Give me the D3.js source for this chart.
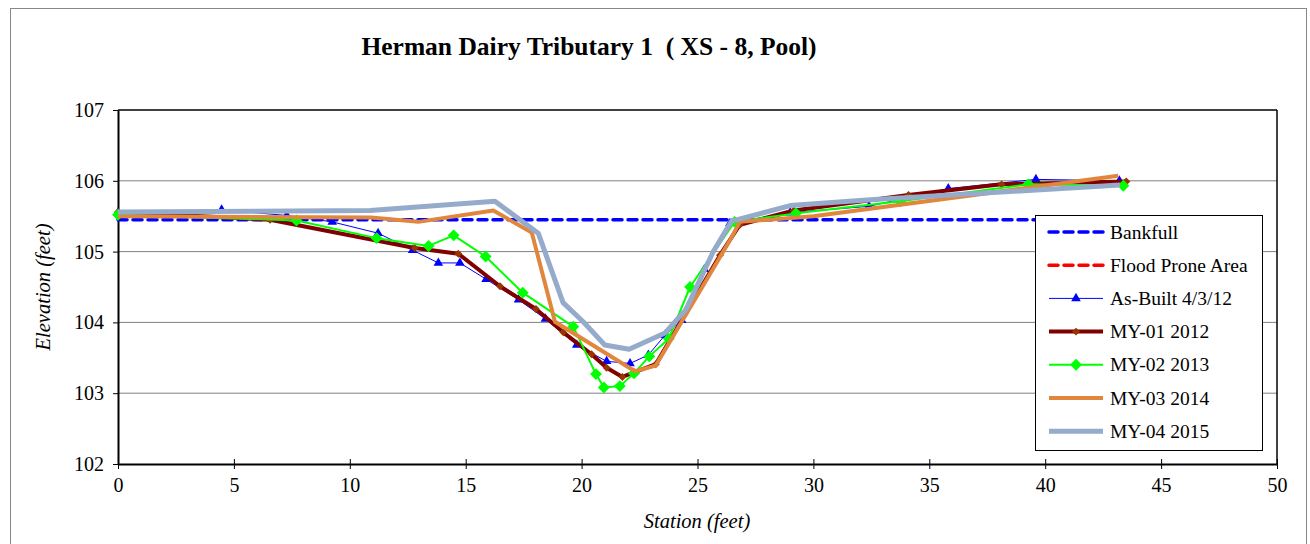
<!DOCTYPE html>
<html>
<head>
<meta charset="utf-8">
<script src="https://cdn.jsdelivr.net/npm/d3@7"></script>
<style>
  body { margin: 0; background: #fff; }
  svg { display: block; font-family: "Liberation Serif", "Times New Roman", serif; }
  .tick text { font-family: "Liberation Serif", "Times New Roman", serif; }
</style>
</head>
<body>
<svg id="chart"></svg>
<script>
const width = 1310;
const height = 544;

// station ticks and elevation ticks
const xTicks = [0, 5, 10, 15, 20, 25, 30, 35, 40, 45, 50];
const yTicks = [102, 103, 104, 105, 106, 107];

// survey data, [station, elevation]
const bankfull = [[0, 105.45], [43.2, 105.45]];
const floodProne = [];
const asBuilt = [
  [0, 105.55], [4.47, 105.59], [7.28, 105.51], [9.24, 105.42], [11.22, 105.26],
  [12.71, 105.02], [13.82, 104.84], [14.75, 104.84], [15.88, 104.61], [17.28, 104.32],
  [18.44, 104.05], [19.79, 103.68], [21.08, 103.45], [22.09, 103.42], [22.88, 103.54],
  [23.6, 103.82], [24.32, 104.03], [25.3, 104.75], [26.4, 105.4], [29.0, 105.55],
  [32.4, 105.64], [35.82, 105.89], [39.6, 106.02], [43.2, 106.0]
];
const my01 = [
  [0, 105.56], [6.56, 105.45], [12.8, 105.05], [14.68, 104.97], [16.48, 104.51],
  [18.03, 104.19], [19.21, 103.86], [20.43, 103.55], [21.08, 103.36], [21.76, 103.23],
  [23.2, 103.41], [25.97, 104.95], [26.83, 105.38], [29.16, 105.58], [34.1, 105.8],
  [38.12, 105.95], [43.5, 105.99]
];
const my02 = [
  [0, 105.52], [7.7, 105.44], [11.16, 105.19], [13.4, 105.08], [14.48, 105.23],
  [15.86, 104.93], [17.46, 104.42], [19.64, 103.94], [20.62, 103.27], [20.96, 103.08],
  [21.65, 103.1], [22.26, 103.28], [22.92, 103.52], [23.76, 103.77], [24.68, 104.5],
  [26.6, 105.42], [29.25, 105.54], [33.74, 105.71], [39.27, 105.95], [43.37, 105.93]
];
const my03 = [
  [0, 105.5], [10.9, 105.48], [12.96, 105.42], [16.19, 105.58], [17.85, 105.27],
  [18.85, 104.01], [22.3, 103.31], [23.2, 103.39], [26.4, 105.16], [26.83, 105.42],
  [30.0, 105.5], [43.15, 106.07]
];
const my04 = [
  [0, 105.56], [10.87, 105.58], [16.26, 105.71], [18.13, 105.26], [19.2, 104.28],
  [20.07, 104.01], [21.0, 103.68], [22.05, 103.62], [23.6, 103.85], [24.5, 104.18],
  [25.68, 105.0], [26.47, 105.43], [29.0, 105.65], [32.3, 105.73], [43.23, 105.94]
];

const series = [
  { name: "Bankfull", data: bankfull, color: "#0000ff", width: 3.5, dash: "9,6", marker: null },
  { name: "Flood Prone Area", data: floodProne, color: "#ff0000", width: 3.5, dash: "9,6", marker: null },
  { name: "As-Built 4/3/12", data: asBuilt, color: "#0000ff", width: 1, dash: null, marker: "triangle", markerColor: "#0000ff", markerSize: 40 },
  { name: "MY-01 2012", data: my01, color: "#800000", width: 4, dash: null, marker: "diamond", markerColor: "#993300", markerSize: 40 },
  { name: "MY-02 2013", data: my02, color: "#00ff00", width: 2, dash: null, marker: "diamond", markerColor: "#00ff00", markerSize: 90 },
  { name: "MY-03 2014", data: my03, color: "#e0863d", width: 4, dash: null, marker: null },
  { name: "MY-04 2015", data: my04, color: "#95abcc", width: 5, dash: null, marker: null }
];

const serif = "Liberation Serif, Times New Roman, serif";
const margin = { left: 118, right: 33, top: 110, bottom: 80 };

const x = d3.scaleLinear().domain([0, 50]).range([margin.left, width - margin.right]);
const y = d3.scaleLinear().domain([102, 107]).range([height - margin.bottom, margin.top]);

const svg = d3.select("#chart").attr("width", width).attr("height", height);

// outer chart frame
svg.append("rect")
  .attr("x", 10.5).attr("y", 8.5)
  .attr("width", 1296).attr("height", 600)
  .attr("fill", "none").attr("stroke", "#888").attr("stroke-width", 1);

// title
svg.append("text")
  .attr("x", 589).attr("y", 55)
  .attr("text-anchor", "middle")
  .attr("font-size", "25.5px").attr("font-weight", "bold")
  .style("white-space", "pre")
  .text("Herman Dairy Tributary 1  ( XS - 8, Pool)");

// gridlines
svg.append("g")
  .selectAll("line")
  .data(yTicks.slice(1, -1))
  .enter().append("line")
  .attr("x1", x(0)).attr("x2", x(50))
  .attr("y1", d => y(d)).attr("y2", d => y(d))
  .attr("stroke", "#808080").attr("stroke-width", 1);

// plot frame: top/right thin
svg.append("line")
  .attr("x1", x(0)).attr("x2", x(50)).attr("y1", y(107)).attr("y2", y(107))
  .attr("stroke", "#000").attr("stroke-width", 1.5);
svg.append("line")
  .attr("x1", x(50)).attr("x2", x(50)).attr("y1", y(107)).attr("y2", y(102))
  .attr("stroke", "#000").attr("stroke-width", 1.5);

// axes
const xAxis = d3.axisBottom(x).tickValues(xTicks).tickFormat(d3.format("d"))
  .tickSize(5).tickPadding(9).tickSizeOuter(0);
const gx = svg.append("g").attr("transform", `translate(0,${y(102)})`).call(xAxis)
  .attr("font-family", serif).attr("font-size", 20);
gx.select(".domain").attr("stroke-width", 2);
gx.selectAll(".tick line").attr("y1", -5).attr("y2", 5);

const yAxis = d3.axisLeft(y).tickValues(yTicks).tickFormat(d3.format("d"))
  .tickSize(5).tickPadding(9).tickSizeOuter(0);
const gy = svg.append("g").attr("transform", `translate(${x(0)},0)`).call(yAxis)
  .attr("font-family", serif).attr("font-size", 20);
gy.select(".domain").attr("stroke-width", 2);

// axis titles
svg.append("text")
  .attr("x", 697).attr("y", 528)
  .attr("text-anchor", "middle")
  .attr("font-size", "20.5px").attr("font-style", "italic")
  .text("Station (feet)");
svg.append("text")
  .attr("transform", `translate(50,${(y(102) + y(107)) / 2}) rotate(-90)`)
  .attr("text-anchor", "middle")
  .attr("font-size", "20.5px").attr("font-style", "italic")
  .text("Elevation (feet)");

const line = d3.line().x(d => x(d[0])).y(d => y(d[1]));

const symbolType = { triangle: d3.symbolTriangle, diamond: d3.symbolDiamond2 };

const plot = svg.append("g");
series.forEach(s => {
  if (!s.data.length) return;
  plot.append("path")
    .datum(s.data)
    .attr("fill", "none")
    .attr("stroke", s.color)
    .attr("stroke-width", s.width)
    .attr("stroke-linejoin", "round")
    .attr("stroke-linecap", s.dash ? "round" : "butt")
    .attr("stroke-dasharray", s.dash)
    .attr("d", line);
  if (s.marker) {
    plot.append("g")
      .selectAll("path")
      .data(s.data)
      .enter().append("path")
      .attr("transform", d => `translate(${x(d[0])},${y(d[1])})`)
      .attr("d", d3.symbol(symbolType[s.marker], s.markerSize))
      .attr("fill", s.markerColor);
  }
});

// legend
const legend = svg.append("g").attr("transform", "translate(1035,215)");
legend.append("rect")
  .attr("x", 0.5).attr("y", 0.5)
  .attr("width", 227).attr("height", 235)
  .attr("fill", "#fff").attr("stroke", "#000").attr("stroke-width", 1);

const item = legend.selectAll("g.item")
  .data(series)
  .enter().append("g")
  .attr("class", "item")
  .attr("transform", (d, i) => `translate(0,${17 + i * 33.2})`);

item.append("line")
  .attr("x1", 14).attr("x2", 68)
  .attr("stroke", d => d.color)
  .attr("stroke-width", d => d.width)
  .attr("stroke-linecap", d => d.dash ? "round" : "butt")
  .attr("stroke-dasharray", d => d.dash);

item.filter(d => d.marker)
  .append("path")
  .attr("transform", "translate(41,0)")
  .attr("d", d => d3.symbol(symbolType[d.marker], d.markerSize)())
  .attr("fill", d => d.markerColor);

item.append("text")
  .attr("x", 75).attr("y", 6.5)
  .attr("font-size", "19.5px")
  .text(d => d.name);
</script>
</body>
</html>
